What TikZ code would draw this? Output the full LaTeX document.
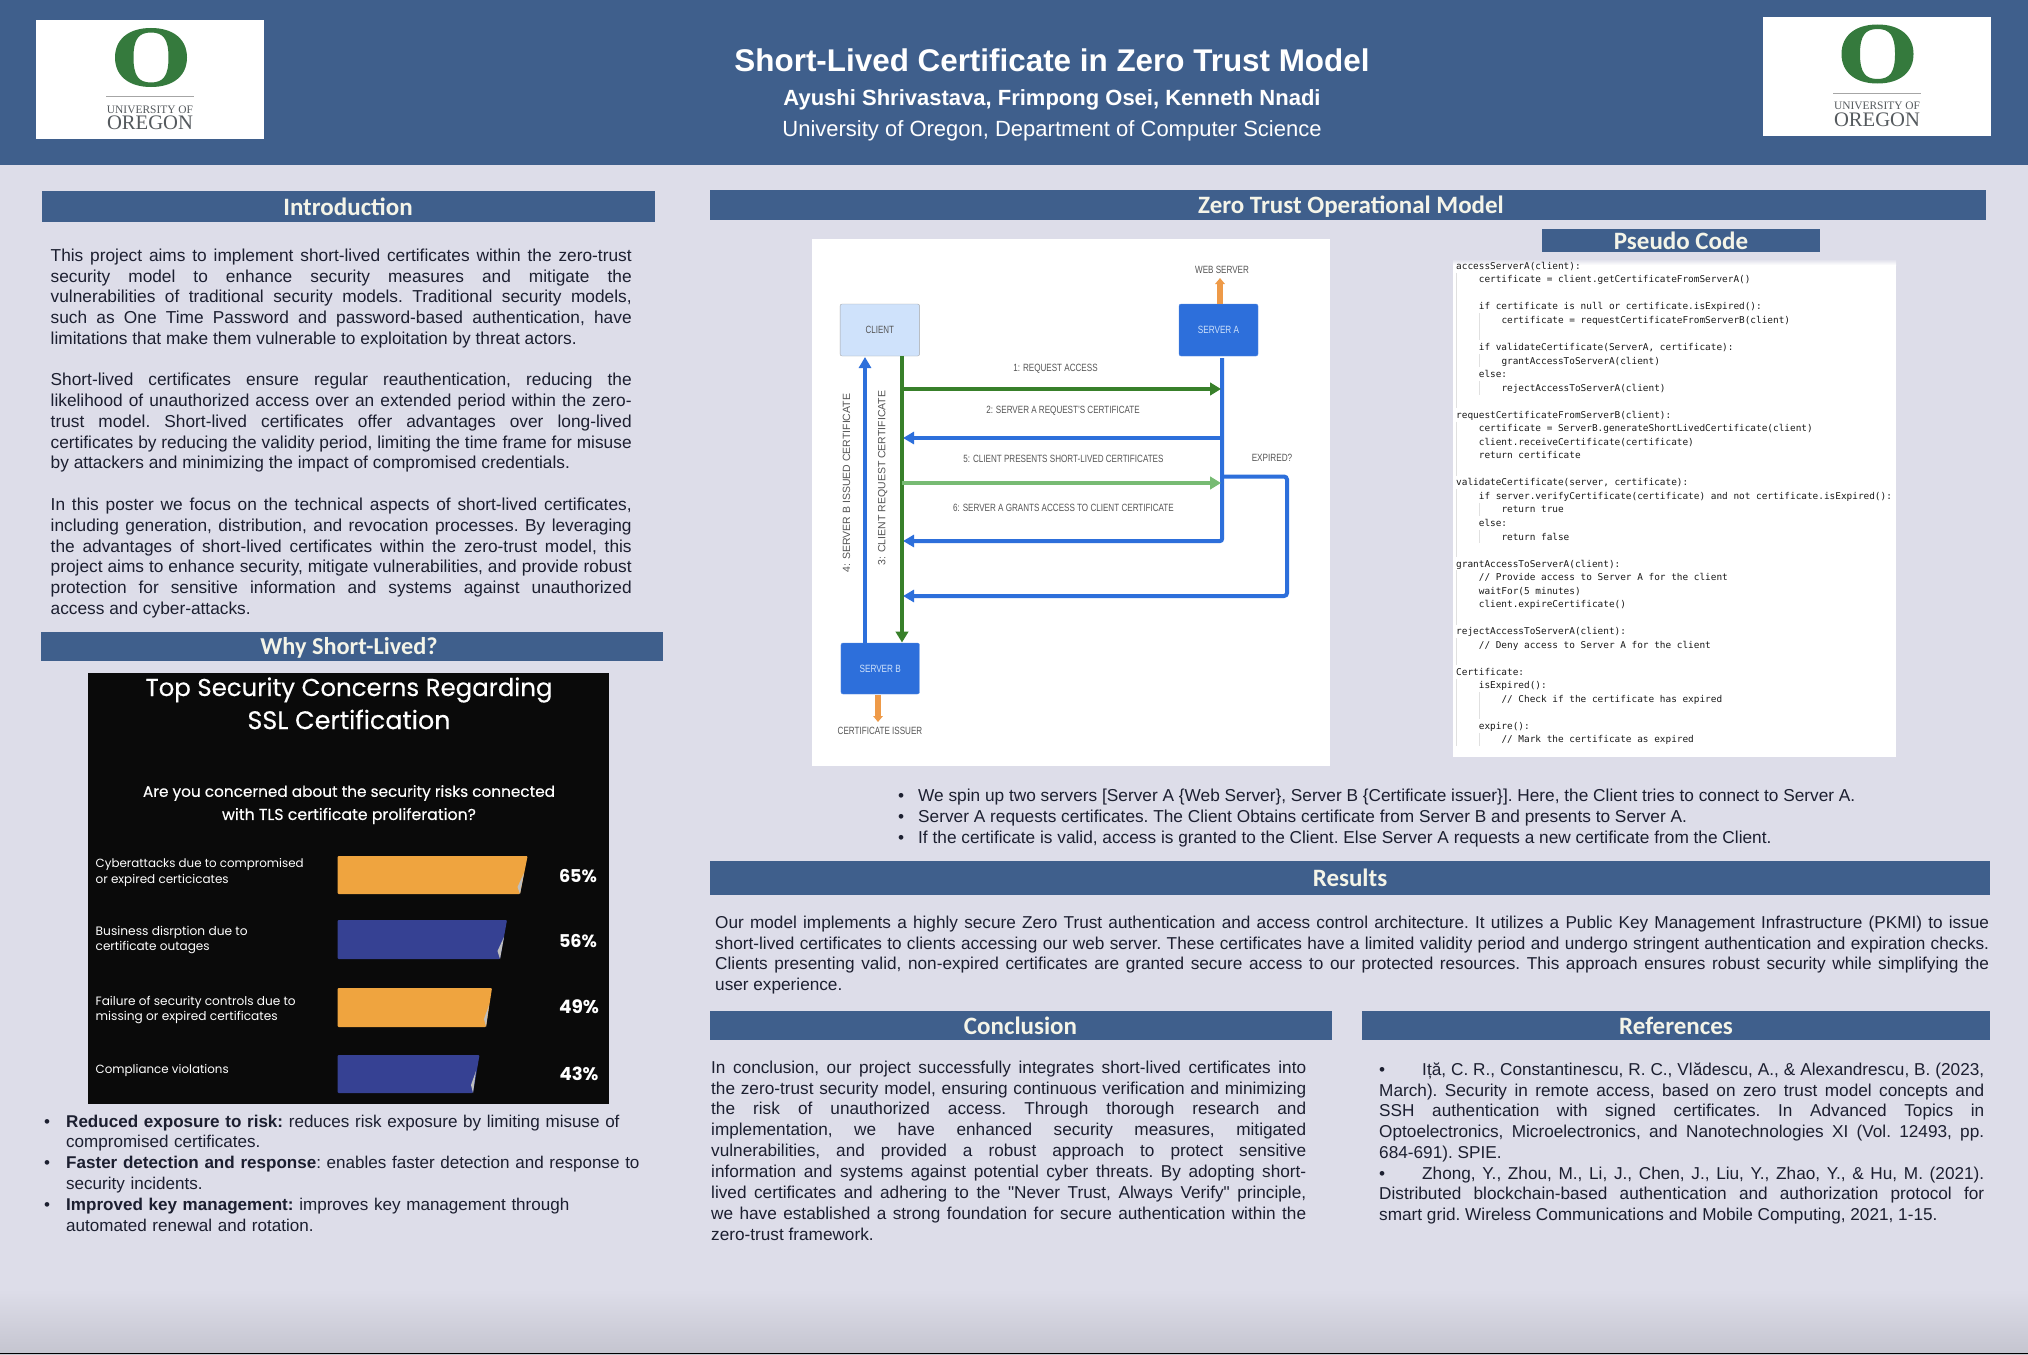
\documentclass[tikz,border=0pt]{standalone}
\usepackage{fontspec}
\usepackage{graphicx}
\setmainfont{Liberation Sans}
\newfontfamily\plainq{Liberation Sans}
\newfontfamily\headfont{Carlito}
\newfontfamily\chartfont{Poppins}
\newfontfamily\charttitle[FakeBold=0.35]{Poppins}
\newfontfamily\codefont{DejaVu Sans Mono}
\newfontfamily\logofont{Liberation Serif}
\usetikzlibrary{arrows.meta}
\definecolor{bandblue}{HTML}{3F5F8C}
\definecolor{pagebg}{HTML}{DDDDE9}
\definecolor{bandtext}{HTML}{F4F4E8}
\definecolor{arrowblue}{HTML}{2D6FDB}
\definecolor{darkgreen}{HTML}{38802A}
\definecolor{lightgreen}{HTML}{77BB73}
\definecolor{arroworange}{HTML}{EE9A48}
\definecolor{ogreen}{HTML}{357A3D}
\definecolor{logogray}{HTML}{555A5E}
\definecolor{seqtext}{HTML}{555555}
\definecolor{clientfill}{HTML}{CFE2FB}
\definecolor{barorange}{HTML}{EFA43F}
\definecolor{barblue}{HTML}{364193}
\definecolor{chartbg}{HTML}{0A0A0A}
\definecolor{bodytext}{HTML}{1C1F30}
\newcommand{\fitw}[2]{\resizebox{#1pt}{!}{#2}}
\newcommand{\lv}[1]{\hspace*{\dimexpr #1\dimexpr 22.64pt\relax\relax}}
\newcommand{\oring}[2]{%
  \fill[ogreen,even odd rule]
    ({#1+36},{#2}) .. controls ({#1+36},{#2-18.3}) and ({#1+22.3},{#2-29.5}) .. ({#1},{#2-29.5})
    .. controls ({#1-22.3},{#2-29.5}) and ({#1-36},{#2-18.3}) .. ({#1-36},{#2})
    .. controls ({#1-36},{#2+18.3}) and ({#1-22.3},{#2+29.5}) .. ({#1},{#2+29.5})
    .. controls ({#1+22.3},{#2+29.5}) and ({#1+36},{#2+18.3}) .. ({#1+36},{#2}) -- cycle
    ({#1+17.5},{#2}) .. controls ({#1+17.5},{#2-18}) and ({#1+12.6},{#2-25}) .. ({#1},{#2-25})
    .. controls ({#1-12.6},{#2-25}) and ({#1-17.5},{#2-18}) .. ({#1-17.5},{#2})
    .. controls ({#1-17.5},{#2+18}) and ({#1-12.6},{#2+25}) .. ({#1},{#2+25})
    .. controls ({#1+12.6},{#2+25}) and ({#1+17.5},{#2+18}) .. ({#1+17.5},{#2}) -- cycle;}
\tikzset{
  x=1pt,y=-1pt,
  band/.style={fill=bandblue,draw=none},
  bandlabel/.style={font=\headfont\bfseries\fontsize{25}{27}\selectfont,text=bandtext,inner sep=0pt},
  para/.style={anchor=north west,inner sep=0pt,text=bodytext,align=justify,font=\frenchspacing\fontsize{17.2}{20.9}\selectfont},
  paral/.style={anchor=north west,inner sep=0pt,text=bodytext,align=left,font=\frenchspacing\fontsize{17.2}{20.9}\selectfont},
  srv/.style={fill=arrowblue,draw=arrowblue!80!white,rounded corners=2pt,text=clientfill,inner sep=0pt,font=\fontsize{10.5}{12}\selectfont},
  cli/.style={fill=clientfill,draw=gray!70,rounded corners=2pt,text=seqtext,inner sep=0pt,font=\fontsize{10.5}{12}\selectfont},
  seqlabel/.style={text=seqtext,inner sep=0pt,font=\fontsize{10.5}{12}\selectfont},
  conn/.style={line width=4pt,-{Triangle[length=11pt,width=12pt]}},
  gconn/.style={line width=4.8pt,-{Triangle[length=11pt,width=12.5pt]}},
  guide/.style={line width=0.8pt,draw=black!12},
  chartw/.style={text=white,inner sep=0pt},
}
\begin{document}
\begin{tikzpicture}
\useasboundingbox (0,0) rectangle (2028,1354);
% page
\fill[pagebg] (0,0) rectangle (2028,1290);
\shade[top color=pagebg,bottom color=pagebg!89!black] (0,1289.5) rectangle (2028,1354);
\fill[black] (0,1352.6) rectangle (2028,1354);
% header
\fill[bandblue] (0,0) rectangle (2028,165);
% left logo
\fill[white] (36,20) rectangle (264,139);
\oring{151}{57.5}
\draw[gray!70,line width=0.8pt] (106,96) -- (194,96);
\node[inner sep=0pt,text=logogray,font=\logofont] (lu) at (150,110) {\fitw{86}{UNIVERSITY OF}};
\node[inner sep=0pt,text=logogray,font=\logofont] (lo) at (150,123) {\fitw{86}{OREGON}};
% right logo
\fill[white] (1763,17) rectangle (1991,136);
\oring{1877.5}{54}
\draw[gray!70,line width=0.8pt] (1833,93) -- (1921,93);
\node[inner sep=0pt,text=logogray,font=\logofont] (ru) at (1877,106) {\fitw{86}{UNIVERSITY OF}};
\node[inner sep=0pt,text=logogray,font=\logofont] (ro) at (1877,120) {\fitw{86}{OREGON}};
% header text
\node[inner sep=0pt,text=white,font=\bfseries\fontsize{31.4}{36}\selectfont] (title) at (1052,60) {Short-Lived Certificate in Zero Trust Model};
\node[inner sep=0pt,text=white,font=\bfseries\fontsize{22}{26}\selectfont] (authors) at (1052,99.5) {Ayushi Shrivastava, Frimpong Osei, Kenneth Nnadi};
\node[inner sep=0pt,text=white,font=\fontsize{22}{26}\selectfont] (dept) at (1052,131) {University of Oregon, Department of Computer Science};
% section bands
\fill[band] (42,191) rectangle (655,222);
\node[bandlabel] (hintro) at (348,207) {Introduction};
\fill[band] (41,632) rectangle (663,661);
\node[bandlabel,font=\headfont\bfseries\fontsize{24.3}{27}\selectfont] (hwhy) at (349,648) {Why Short-Lived?};
\fill[band] (710,190) rectangle (1986,220);
\node[bandlabel] (hzero) at (1351,207) {Zero Trust Operational Model};
\fill[band] (1542,229) rectangle (1820,252);
\node[bandlabel] (hcode) at (1681,241) {Pseudo Code};
\fill[band] (710,861) rectangle (1990,895);
\node[bandlabel] (hres) at (1350,878) {Results};
\fill[band] (710,1011) rectangle (1332,1040);
\node[bandlabel] (hcon) at (1020.5,1026) {Conclusion};
\fill[band] (1362,1011) rectangle (1990,1040);
\node[bandlabel] (href) at (1676,1026) {References};
% introduction
\node[para,text width=581pt,font=\frenchspacing\fontsize{17.3}{20.77}\selectfont] (intro) at (50.5,248.5) {This project aims to implement short-lived certificates within the zero-trust\linebreak security model to enhance security measures and mitigate the\linebreak vulnerabilities of traditional security models. Traditional security models,\linebreak such as One Time Password and password-based authentication, have\linebreak limitations that make them vulnerable to exploitation by threat actors.\par
\vspace{20.77pt}
Short-lived certificates ensure regular reauthentication, reducing the\linebreak likelihood of unauthorized access over an extended period within the zero-\linebreak trust model. Short-lived certificates offer advantages over long-lived\linebreak certificates by reducing the validity period, limiting the time frame for misuse\linebreak by attackers and minimizing the impact of compromised credentials.\par
\vspace{20.77pt}
In this poster we focus on the technical aspects of short-lived certificates,\linebreak including generation, distribution, and revocation processes. By leveraging\linebreak the advantages of short-lived certificates within the zero-trust model, this\linebreak project aims to enhance security, mitigate vulnerabilities, and provide robust\linebreak protection for sensitive information and systems against unauthorized\linebreak access and cyber-attacks.};
% chart
\fill[chartbg] (88,673) rectangle (609,1104);
\node[chartw,font=\charttitle] (ct1) at (349,690) {\fitw{407}{Top Security Concerns Regarding}};
\node[chartw,font=\charttitle] (ct2) at (349,719.5) {\fitw{203}{SSL Certification}};
\node[chartw,font=\charttitle] (cs1) at (349,793) {\fitw{412}{Are you concerned about the security risks connected}};
\node[chartw,font=\charttitle] (cs2) at (349,816) {\fitw{254}{with TLS certificate proliferation?}};
\node[chartw,anchor=west,font=\chartfont] (l1a) at (95.5,865) {\fitw{208}{Cyberattacks due to compromised}};
\node[chartw,anchor=west,font=\chartfont] (l1b) at (95.5,880) {\fitw{133}{or expired certicicates}};
\node[chartw,anchor=west,font=\chartfont] (l2a) at (95.5,932) {\fitw{152}{Business disrption due to}};
\node[chartw,anchor=west,font=\chartfont] (l2b) at (95.5,948) {\fitw{114}{certificate outages}};
\node[chartw,anchor=west,font=\chartfont] (l3a) at (95.5,1002) {\fitw{200}{Failure of security controls due to}};
\node[chartw,anchor=west,font=\chartfont] (l3b) at (95.5,1017) {\fitw{182}{missing or expired certificates}};
\node[chartw,anchor=west,font=\chartfont] (l4a) at (95.5,1071) {\fitw{133}{Compliance violations}};
\fill[barorange,rounded corners=1pt] (337.6,856) -- (527.6,856) -- (520,894) -- (337.6,894) -- cycle;
\fill[gray!50] (520,894) -- (517.5,887) -- (524,873) -- cycle;
\fill[barblue,rounded corners=1pt] (337.6,920) -- (507,920) -- (500,959) -- (337.6,959) -- cycle;
\fill[gray!50] (500,959) -- (497.5,951) -- (504,937) -- cycle;
\fill[barorange,rounded corners=1pt] (337.6,988) -- (492,988) -- (486,1027) -- (337.6,1027) -- cycle;
\fill[gray!50] (486,1027) -- (484,1019) -- (489,1005) -- cycle;
\fill[barblue,rounded corners=1pt] (337.6,1055) -- (479.5,1055) -- (473,1093) -- (337.6,1093) -- cycle;
\fill[gray!50] (473,1093) -- (471,1085) -- (476,1071) -- cycle;
\node[chartw,font=\chartfont\bfseries] (p1) at (578,876) {\fitw{38}{65\%}};
\node[chartw,font=\chartfont\bfseries] (p2) at (578,941) {\fitw{38}{56\%}};
\node[chartw,font=\chartfont\bfseries] (p3) at (579,1007) {\fitw{40}{49\%}};
\node[chartw,font=\chartfont\bfseries] (p4) at (579,1074) {\fitw{39}{43\%}};
% why bullets
\node[paral,text width=650pt,font=\frenchspacing\fontsize{17.05}{20.9}\selectfont] (why) at (44,1114.5) {\makebox[22pt][l]{•}\textbf{Reduced exposure to risk:} reduces risk exposure by limiting misuse of\\
\hspace*{22pt}compromised certificates.\\
\makebox[22pt][l]{•}\textbf{Faster detection and response}: enables faster detection and response to\\
\hspace*{22pt}security incidents.\\
\makebox[22pt][l]{•}\textbf{Improved key management:} improves key management through\\
\hspace*{22pt}automated renewal and rotation.};
% sequence diagram
\fill[white] (812,239) rectangle (1330,765.5);
\node[cli,minimum width=79.5pt,minimum height=52pt] (client) at (879.8,330) {\scalebox{0.76}[1]{CLIENT}};
\node[srv,minimum width=79pt,minimum height=52pt] (srva) at (1218.5,330) {\scalebox{0.78}[1]{SERVER A}};
\node[srv,minimum width=78.5pt,minimum height=51pt] (srvb) at (880.2,668.5) {\scalebox{0.78}[1]{SERVER B}};
\node[seqlabel] (web) at (1222,270) {\scalebox{0.77}[1]{WEB SERVER}};
\node[seqlabel] (issuer) at (880,731) {\scalebox{0.77}[1]{CERTIFICATE ISSUER}};
\node[seqlabel] (m1) at (1055.5,368.4) {\scalebox{0.77}[1]{1: REQUEST ACCESS}};
\node[seqlabel] (m2) at (1063,411) {\scalebox{0.77}[1]{2: SERVER A REQUEST'S CERTIFICATE}};
\node[seqlabel] (m5) at (1063.4,458.6) {\scalebox{0.77}[1]{5: CLIENT PRESENTS SHORT-LIVED CERTIFICATES}};
\node[seqlabel] (m6) at (1063.4,507.5) {\scalebox{0.77}[1]{6: SERVER A GRANTS ACCESS TO CLIENT CERTIFICATE}};
\node[seqlabel] (exp) at (1272,458) {\scalebox{0.78}[1]{EXPIRED?}};
\node[seqlabel,rotate=90] (m4) at (846.5,483) {4: SERVER B ISSUED CERTIFICATE};
\node[seqlabel,rotate=90] (m3) at (882.6,478) {3: CLIENT REQUEST CERTIFICATE};
\coordinate (ct) at (902,356);
\coordinate (cb) at (902,642.5);
\coordinate (bt) at (865,643);
\coordinate (ci) at (865,357);
\coordinate (at) at (1222,358);
\coordinate (c1) at (902,389);
\coordinate (a1) at (1221,389);
\coordinate (a2) at (1222,438);
\coordinate (c2) at (903,438);
\coordinate (c5) at (902,483);
\coordinate (a5) at (1221,483);
\coordinate (a6) at (1222,541);
\coordinate (c6) at (903,541);
\coordinate (ae) at (1223,476.5);
\coordinate (ee) at (1287,476.5);
\coordinate (ed) at (1287,596);
\coordinate (c7) at (903,596);
\coordinate (wu) at (1220,278);
\coordinate (wd) at (1220,304);
\coordinate (iu) at (878,695);
\coordinate (id) at (878,722);
\draw[conn,arrowblue] (bt) -- (ci);
\draw[arroworange,line width=5.2pt,-{Triangle[length=6pt,width=9.5pt]}] (wd) -- (wu);
\draw[arroworange,line width=5.2pt,-{Triangle[length=6pt,width=9.5pt]}] (iu) -- (id);
\draw[conn,arrowblue] (a2) -- (c2);
\draw[conn,arrowblue,rounded corners=2pt] (at) -- (a6) -- (c6);
\draw[conn,arrowblue,rounded corners=3pt] (ae) -- (ee) -- (ed) -- (c7);
\draw[gconn,darkgreen] (ct) -- (cb);
\draw[gconn,darkgreen] (c1) -- (a1);
\draw[gconn,lightgreen] (c5) -- (a5);
% pseudo code
\fill[white] (1453,261) rectangle (1896,757);
\shade[top color=pagebg,bottom color=white] (1453,259) rectangle (1896,265);
\foreach \a/\b in {2/11,13/16,18/22,24/27,29/30,32/36} \draw[guide] (1456,{266+(\a-1.5)*13.53}) -- (1456,{266+(\b-0.5)*13.53});
\foreach \a/\b in {5/6,8/8,10/10,19/19,21/21,33/34,36/36} \draw[guide] (1479,{266+(\a-1.5)*13.53}) -- (1479,{266+(\b-0.5)*13.53});
\node[anchor=north west,inner sep=0pt,align=left,text=black!90,font=\codefont\fontsize{9.4}{13.53}\selectfont] (code) at (1456,262) {accessServerA(client):\\
\lv{1}certificate = client.getCertificateFromServerA()\\
\mbox{}\\
\lv{1}if certificate is null or certificate.isExpired():\\
\lv{2}certificate = requestCertificateFromServerB(client)\\
\mbox{}\\
\lv{1}if validateCertificate(ServerA, certificate):\\
\lv{2}grantAccessToServerA(client)\\
\lv{1}else:\\
\lv{2}rejectAccessToServerA(client)\\
\mbox{}\\
requestCertificateFromServerB(client):\\
\lv{1}certificate = ServerB.generateShortLivedCertificate(client)\\
\lv{1}client.receiveCertificate(certificate)\\
\lv{1}return certificate\\
\mbox{}\\
validateCertificate(server, certificate):\\
\lv{1}if server.verifyCertificate(certificate) and not certificate.isExpired():\\
\lv{2}return true\\
\lv{1}else:\\
\lv{2}return false\\
\mbox{}\\
grantAccessToServerA(client):\\
\lv{1}// Provide access to Server A for the client\\
\lv{1}waitFor(5 minutes)\\
\lv{1}client.expireCertificate()\\
\mbox{}\\
rejectAccessToServerA(client):\\
\lv{1}// Deny access to Server A for the client\\
\mbox{}\\
Certificate:\\
\lv{1}isExpired():\\
\lv{2}// Check if the certificate has expired\\
\mbox{}\\
\lv{1}expire():\\
\lv{2}// Mark the certificate as expired};
% diagram bullets
\node[paral,font=\frenchspacing\fontsize{17.27}{20.9}\selectfont] (steps) at (898,788.5) {\makebox[20pt][l]{•}We spin up two servers [Server A \{Web Server\}, Server B \{Certificate issuer\}]. Here, the Client tries to connect to Server A.\\
\makebox[20pt][l]{•}Server A requests certificates. The Client Obtains certificate from Server B and presents to Server A.\\
\makebox[20pt][l]{•}If the certificate is valid, access is granted to the Client. Else Server A requests a new certificate from the Client.};
% results
\node[para,text width=1274pt] (res) at (715,915.5) {Our model implements a highly secure Zero Trust authentication and access control architecture. It utilizes a Public Key Management Infrastructure (PKMI) to issue\linebreak short-lived certificates to clients accessing our web server. These certificates have a limited validity period and undergo stringent authentication and expiration checks.\linebreak Clients presenting valid, non-expired certificates are granted secure access to our protected resources. This approach ensures robust security while simplifying the\linebreak user experience.};
% conclusion
\node[para,text width=595pt] (con) at (711,1060.5) {In conclusion, our project successfully integrates short-lived certificates into\linebreak the zero-trust security model, ensuring continuous verification and minimizing\linebreak the risk of unauthorized access. Through thorough research and\linebreak implementation, we have enhanced security measures, mitigated\linebreak vulnerabilities, and provided a robust approach to protect sensitive\linebreak information and systems against potential cyber threats. By adopting short-\linebreak lived certificates and adhering to the {\plainq"Never Trust, Always Verify"} principle,\linebreak we have established a strong foundation for secure authentication within the\linebreak zero-trust framework.};
% references
\node[para,text width=605pt,font=\frenchspacing\fontsize{17.2}{20.75}\selectfont] (refs) at (1379,1062.5) {•\hspace{37pt}Iță, C. R., Constantinescu, R. C., Vlădescu, A., \& Alexandrescu, B. (2023,\linebreak March). Security in remote access, based on zero trust model concepts and\linebreak SSH authentication with signed certificates. In Advanced Topics in\linebreak Optoelectronics, Microelectronics, and Nanotechnologies XI (Vol. 12493, pp.\linebreak 684-691). SPIE.\par
•\hspace{37pt}Zhong, Y., Zhou, M., Li, J., Chen, J., Liu, Y., Zhao, Y., \& Hu, M. (2021).\linebreak Distributed blockchain-based authentication and authorization protocol for\linebreak smart grid. Wireless Communications and Mobile Computing, 2021, 1-15.};
\end{tikzpicture}
\end{document}
